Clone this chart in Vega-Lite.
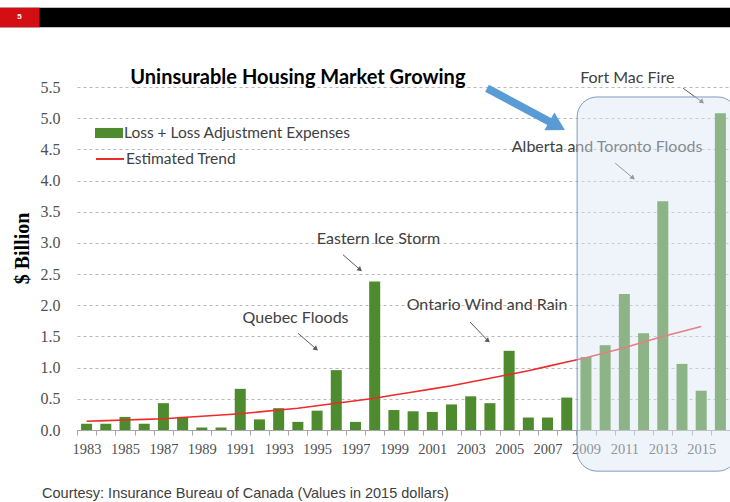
{
  "$schema": "https://vega.github.io/schema/vega-lite/v6.json",
  "autosize": {"type": "none"},
  "width": 653,
  "height": 343,
  "padding": {"left": 77, "top": 87, "right": 0, "bottom": 72},
  "background": "#ffffff",
  "config": {
    "view": {"stroke": null},
    "font": "Lato"
  },
  "datasets": {
    "losses": [
      {"year": 1983, "value": 0.10, "series": "Loss + Loss Adjustment Expenses"},
      {"year": 1984, "value": 0.10, "series": "Loss + Loss Adjustment Expenses"},
      {"year": 1985, "value": 0.21, "series": "Loss + Loss Adjustment Expenses"},
      {"year": 1986, "value": 0.10, "series": "Loss + Loss Adjustment Expenses"},
      {"year": 1987, "value": 0.43, "series": "Loss + Loss Adjustment Expenses"},
      {"year": 1988, "value": 0.21, "series": "Loss + Loss Adjustment Expenses"},
      {"year": 1989, "value": 0.04, "series": "Loss + Loss Adjustment Expenses"},
      {"year": 1990, "value": 0.04, "series": "Loss + Loss Adjustment Expenses"},
      {"year": 1991, "value": 0.66, "series": "Loss + Loss Adjustment Expenses"},
      {"year": 1992, "value": 0.17, "series": "Loss + Loss Adjustment Expenses"},
      {"year": 1993, "value": 0.35, "series": "Loss + Loss Adjustment Expenses"},
      {"year": 1994, "value": 0.13, "series": "Loss + Loss Adjustment Expenses"},
      {"year": 1995, "value": 0.31, "series": "Loss + Loss Adjustment Expenses"},
      {"year": 1996, "value": 0.96, "series": "Loss + Loss Adjustment Expenses"},
      {"year": 1997, "value": 0.13, "series": "Loss + Loss Adjustment Expenses"},
      {"year": 1998, "value": 2.38, "series": "Loss + Loss Adjustment Expenses"},
      {"year": 1999, "value": 0.32, "series": "Loss + Loss Adjustment Expenses"},
      {"year": 2000, "value": 0.30, "series": "Loss + Loss Adjustment Expenses"},
      {"year": 2001, "value": 0.29, "series": "Loss + Loss Adjustment Expenses"},
      {"year": 2002, "value": 0.41, "series": "Loss + Loss Adjustment Expenses"},
      {"year": 2003, "value": 0.54, "series": "Loss + Loss Adjustment Expenses"},
      {"year": 2004, "value": 0.43, "series": "Loss + Loss Adjustment Expenses"},
      {"year": 2005, "value": 1.27, "series": "Loss + Loss Adjustment Expenses"},
      {"year": 2006, "value": 0.20, "series": "Loss + Loss Adjustment Expenses"},
      {"year": 2007, "value": 0.20, "series": "Loss + Loss Adjustment Expenses"},
      {"year": 2008, "value": 0.52, "series": "Loss + Loss Adjustment Expenses"},
      {"year": 2009, "value": 1.17, "series": "Loss + Loss Adjustment Expenses"},
      {"year": 2010, "value": 1.36, "series": "Loss + Loss Adjustment Expenses"},
      {"year": 2011, "value": 2.18, "series": "Loss + Loss Adjustment Expenses"},
      {"year": 2012, "value": 1.55, "series": "Loss + Loss Adjustment Expenses"},
      {"year": 2013, "value": 3.67, "series": "Loss + Loss Adjustment Expenses"},
      {"year": 2014, "value": 1.06, "series": "Loss + Loss Adjustment Expenses"},
      {"year": 2015, "value": 0.63, "series": "Loss + Loss Adjustment Expenses"},
      {"year": 2016, "value": 5.08, "series": "Loss + Loss Adjustment Expenses"}
    ],
    "trend": [
      {"year": 1983, "value": 0.14, "series": "Estimated Trend"},
      {"year": 1984, "value": 0.15, "series": "Estimated Trend"},
      {"year": 1985, "value": 0.16, "series": "Estimated Trend"},
      {"year": 1986, "value": 0.17, "series": "Estimated Trend"},
      {"year": 1987, "value": 0.18, "series": "Estimated Trend"},
      {"year": 1988, "value": 0.20, "series": "Estimated Trend"},
      {"year": 1989, "value": 0.22, "series": "Estimated Trend"},
      {"year": 1990, "value": 0.24, "series": "Estimated Trend"},
      {"year": 1991, "value": 0.26, "series": "Estimated Trend"},
      {"year": 1992, "value": 0.29, "series": "Estimated Trend"},
      {"year": 1993, "value": 0.32, "series": "Estimated Trend"},
      {"year": 1994, "value": 0.35, "series": "Estimated Trend"},
      {"year": 1995, "value": 0.39, "series": "Estimated Trend"},
      {"year": 1996, "value": 0.43, "series": "Estimated Trend"},
      {"year": 1997, "value": 0.47, "series": "Estimated Trend"},
      {"year": 1998, "value": 0.51, "series": "Estimated Trend"},
      {"year": 1999, "value": 0.56, "series": "Estimated Trend"},
      {"year": 2000, "value": 0.61, "series": "Estimated Trend"},
      {"year": 2001, "value": 0.66, "series": "Estimated Trend"},
      {"year": 2002, "value": 0.71, "series": "Estimated Trend"},
      {"year": 2003, "value": 0.77, "series": "Estimated Trend"},
      {"year": 2004, "value": 0.83, "series": "Estimated Trend"},
      {"year": 2005, "value": 0.89, "series": "Estimated Trend"},
      {"year": 2006, "value": 0.95, "series": "Estimated Trend"},
      {"year": 2007, "value": 1.02, "series": "Estimated Trend"},
      {"year": 2008, "value": 1.09, "series": "Estimated Trend"},
      {"year": 2009, "value": 1.16, "series": "Estimated Trend"},
      {"year": 2010, "value": 1.24, "series": "Estimated Trend"},
      {"year": 2011, "value": 1.32, "series": "Estimated Trend"},
      {"year": 2012, "value": 1.41, "series": "Estimated Trend"},
      {"year": 2013, "value": 1.50, "series": "Estimated Trend"},
      {"year": 2014, "value": 1.58, "series": "Estimated Trend"},
      {"year": 2015, "value": 1.66, "series": "Estimated Trend"}
    ],
    "notes": [
      {"label": "Fort Mac Fire", "year": 2011.15, "value": 5.645},
      {"label": "Alberta and Toronto Floods", "year": 2010.1, "value": 4.54},
      {"label": "Eastern Ice Storm", "year": 1998.2, "value": 3.06},
      {"label": "Ontario Wind and Rain", "year": 2003.85, "value": 2.0},
      {"label": "Quebec Floods", "year": 1993.88, "value": 1.8}
    ],
    "pointers": [
      {"year": 2015.05, "value": 5.26, "year2": 2014.06, "value2": 5.48},
      {"year": 2011.45, "value": 4.04, "year2": 2010.52, "value2": 4.28},
      {"year": 1997.24, "value": 2.57, "year2": 1996.35, "value2": 2.81},
      {"year": 2003.9, "value": 1.43, "year2": 2002.97, "value2": 1.73},
      {"year": 1994.95, "value": 1.3, "year2": 1994.01, "value2": 1.55}
    ],
    "headline": [
      {"label": "Uninsurable Housing Market Growing", "year": 1994.0, "value": 5.645}
    ],
    "recent": [
      {"year": 2008.54, "year2": 2016.9, "value": -0.66, "value2": 5.34}
    ],
    "growth_arrow": [
      {"year": 2007.5, "value": 4.88, "year2": 2003.85, "value2": 5.48}
    ],
    "banner": [
      {"year": 1978.3, "year2": 2017.5, "value": 6.46, "value2": 6.77}
    ],
    "badge": [
      {"year": 1978.3, "year2": 1980.55, "value": 6.46, "value2": 6.77}
    ],
    "badge_text": [
      {"label": "5", "year": 1979.5, "value": 6.615}
    ],
    "source": [
      {"label": "Courtesy: Insurance Bureau of Canada (Values in 2015 dollars)", "year": 1980.68, "value": -1.03}
    ]
  },
  "encoding": {
    "x": {
      "field": "year",
      "type": "quantitative",
      "scale": {"domain": [1982.5, 2016.5], "nice": false, "zero": false, "padding": 0},
      "axis": {
        "title": null,
        "values": [1982.5, 1983.5, 1984.5, 1985.5, 1986.5, 1987.5, 1988.5, 1989.5, 1990.5, 1991.5, 1992.5, 1993.5, 1994.5, 1995.5, 1996.5, 1997.5, 1998.5, 1999.5, 2000.5, 2001.5, 2002.5, 2003.5, 2004.5, 2005.5, 2006.5, 2007.5, 2008.5, 2009.5, 2010.5, 2011.5, 2012.5, 2013.5, 2014.5, 2015.5, 2016.5],
        "labelExpr": "(datum.value + 0.5) % 2 == 1 && datum.value < 2016 ? toString(datum.value + 0.5) : ''",
        "labelOffset": 9.6,
        "labelFlush": false,
        "labelOverlap": false,
        "labelFont": "Liberation Serif",
        "labelFontSize": 14.5,
        "labelColor": "#505050",
        "labelPadding": 7,
        "tickSize": 5,
        "tickColor": "#a6a6a6",
        "domainColor": "#a6a6a6",
        "grid": false
      }
    },
    "y": {
      "field": "value",
      "type": "quantitative",
      "scale": {"domain": [0, 5.5], "nice": false},
      "axis": {
        "title": "$ Billion",
        "titleFont": "Liberation Serif",
        "titleFontSize": 20,
        "titleFontWeight": "bold",
        "titleColor": "#000000",
        "titlePadding": 8,
        "titleY": 161,
        "values": [0, 0.5, 1, 1.5, 2, 2.5, 3, 3.5, 4, 4.5, 5, 5.5],
        "format": ".1f",
        "labelOverlap": false,
        "labelFont": "Liberation Serif",
        "labelFontSize": 16,
        "labelColor": "#505050",
        "labelPadding": 17,
        "ticks": false,
        "domain": false,
        "grid": true,
        "gridColor": "#b8b8b8",
        "gridDash": [3, 3],
        "gridWidth": 1
      }
    }
  },
  "layer": [
    {
      "data": {"name": "banner"},
      "mark": {"type": "rect", "fill": "#000000"},
      "encoding": {"x2": {"field": "year2"}, "y2": {"field": "value2"}}
    },
    {
      "data": {"name": "badge"},
      "mark": {"type": "rect", "fill": "#d40f14"},
      "encoding": {"x2": {"field": "year2"}, "y2": {"field": "value2"}}
    },
    {
      "data": {"name": "badge_text"},
      "mark": {"type": "text", "color": "#ffffff", "fontSize": 8, "fontWeight": "bold", "font": "Liberation Sans"},
      "encoding": {"text": {"field": "label"}}
    },
    {
      "data": {"name": "losses"},
      "mark": {"type": "bar", "size": 11},
      "encoding": {
        "fill": {
          "field": "series",
          "type": "nominal",
          "scale": {"range": ["#4e8a2e"]},
          "legend": {
            "title": null,
            "orient": "none",
            "legendX": 18,
            "legendY": 32,
            "padding": 0,
            "symbolType": "M-1,-0.36H1V0.36H-1Z",
            "symbolSize": 784,
            "symbolStrokeWidth": 0,
            "labelOffset": 1,
            "labelLimit": 400,
            "labelFont": "Lato",
            "labelFontSize": 15.5,
            "labelColor": "#404040"
          }
        }
      }
    },
    {
      "data": {"name": "trend"},
      "mark": {"type": "line", "strokeWidth": 1.6},
      "encoding": {
        "stroke": {
          "field": "series",
          "type": "nominal",
          "scale": {"range": ["#ec2b2b"]},
          "legend": {
            "title": null,
            "orient": "none",
            "legendX": 18,
            "legendY": 57,
            "padding": 0,
            "symbolType": "stroke",
            "symbolSize": 784,
            "symbolStrokeWidth": 2,
            "labelOffset": 1,
            "labelLimit": 400,
            "labelFont": "Lato",
            "labelFontSize": 15.5,
            "labelColor": "#404040"
          }
        }
      }
    },
    {
      "data": {"name": "headline"},
      "mark": {"type": "text", "font": "Lato", "fontSize": 20, "fontWeight": "bold", "color": "#000000"},
      "encoding": {"text": {"field": "label"}}
    },
    {
      "data": {"name": "notes"},
      "mark": {"type": "text", "font": "Lato", "fontSize": 16, "color": "#404040"},
      "encoding": {"text": {"field": "label"}}
    },
    {
      "data": {"name": "pointers"},
      "mark": {"type": "rule", "color": "#595959", "strokeWidth": 1},
      "encoding": {"x2": {"field": "year2"}, "y2": {"field": "value2"}}
    },
    {
      "data": {"name": "pointers"},
      "mark": {"type": "point", "shape": "triangle-right", "filled": true, "color": "#595959", "size": 30, "angle": 40, "opacity": 1},
      "encoding": {}
    },
    {
      "data": {"name": "recent"},
      "mark": {"type": "rect", "fill": "#dce7f3", "fillOpacity": 0.45, "stroke": "#7f9cbf", "strokeWidth": 1, "cornerRadius": 20},
      "encoding": {"x2": {"field": "year2"}, "y2": {"field": "value2"}}
    },
    {
      "data": {"name": "growth_arrow"},
      "mark": {"type": "rule", "color": "#5b9bd5", "strokeWidth": 8},
      "encoding": {"x2": {"field": "year2"}, "y2": {"field": "value2"}}
    },
    {
      "data": {"name": "growth_arrow"},
      "mark": {"type": "point", "shape": "triangle-right", "filled": true, "color": "#5b9bd5", "size": 420, "angle": 29, "opacity": 1},
      "encoding": {}
    },
    {
      "data": {"name": "source"},
      "mark": {"type": "text", "align": "left", "font": "Liberation Sans", "fontSize": 14.5, "color": "#404040"},
      "encoding": {"text": {"field": "label"}}
    }
  ]
}
